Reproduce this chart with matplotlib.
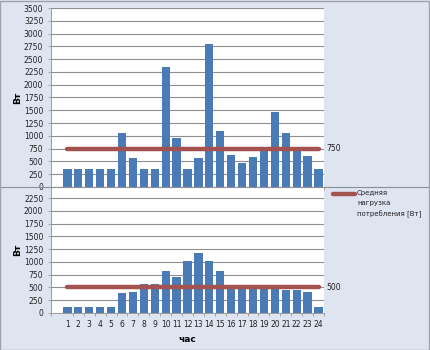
import matplotlib
matplotlib.use("Agg")
import matplotlib.pyplot as plt
from matplotlib.lines import Line2D
import numpy as np

hours = list(range(1, 25))
load_top = [350, 350, 350, 350, 350, 1050, 560, 350, 350, 2350, 950, 350,
            560, 2800, 1100, 625, 460, 590, 780, 1475, 1050, 760, 600, 350]
load_bottom = [110, 110, 110, 110, 110, 390, 420, 560, 560, 820, 700, 1010,
               1170, 1010, 820, 550, 550, 550, 550, 550, 450, 450, 410, 110]
avg_top = 750
avg_bottom = 500
yticks_top = list(range(0, 3501, 250))
yticks_bottom = list(range(0, 2251, 250))
ylabel = "Вт"
xlabel = "час"
legend_label = "Средняя\nнагрузка\nпотребления [Вт]"

BG = "#dfe4f1"
BAR = "#4b7bb6"
AVG = "#a4524f"
GRID = "#8f8f8f"
FS = 5.5

fig = plt.figure(figsize=(4.3, 3.5), dpi=100, facecolor=BG)


def panel(rect, values, avg, yticks, ymax, show_x):
    ax = fig.add_axes(rect)
    ax.set_facecolor("white")
    ax.bar(hours, values, width=0.76, color=BAR, zorder=2)
    ax.plot(hours, [avg] * len(hours), color=AVG, lw=3.2,
            solid_capstyle="round", zorder=3)
    ax.text(24.75, avg, str(avg), fontsize=FS, va="center", ha="left",
            color="#222222", clip_on=False)
    ax.set_xlim(-0.5, 24.5)
    ax.set_ylim(0, ymax)
    ax.set_yticks(yticks)
    ax.set_yticklabels([str(v) for v in yticks], fontsize=FS, color="#222222")
    ax.yaxis.grid(True, color=GRID, lw=0.8, zorder=0)
    ax.set_axisbelow(True)
    ax.tick_params(axis="y", length=2.5, width=0.6, color="#999999", pad=3)
    ax.set_xticks([h + 0.5 for h in [-1] + hours])
    ax.set_xticklabels([])
    ax.set_xticks(hours, minor=True)
    if show_x:
        ax.set_xticklabels([str(h) for h in hours], minor=True, fontsize=FS,
                           color="#222222")
    ax.tick_params(axis="x", which="major", length=2, width=0.6, color="#999999")
    ax.tick_params(axis="x", which="minor", length=0, pad=5)
    for s in ("top", "right"):
        ax.spines[s].set_visible(False)
    ax.spines["left"].set_color("#9a9a9a")
    ax.spines["left"].set_linewidth(0.7)
    ax.spines["bottom"].set_color("#9a9a9a")
    ax.spines["bottom"].set_linewidth(0.7)
    ax.set_ylabel(ylabel, fontsize=6.5, fontweight="bold")
    return ax


ax1 = panel([51 / 430, 1 - 187 / 350, 273 / 430, 179 / 350],
            load_top, avg_top, yticks_top, 3500, False)
ax2 = panel([51 / 430, 1 - 313 / 350, 273 / 430, 126 / 350],
            load_bottom, avg_bottom, yticks_bottom, 2466, True)
ax2.set_xlabel(xlabel, fontsize=6.5, fontweight="bold", labelpad=4)
ax1.yaxis.set_label_coords(-0.105, 0.5)
ax2.yaxis.set_label_coords(-0.105, 0.5)

# divider between the two charts and outer frame
fig.add_artist(Line2D([0, 1], [1 - 187 / 350] * 2, transform=fig.transFigure,
                      color="#8a8f9a", lw=0.8, zorder=1))
fig.add_artist(plt.Rectangle((0.001, 0.001), 0.997, 0.997,
                             transform=fig.transFigure, fill=False,
                             edgecolor="#9ea3ae", lw=1.0))

# legend
fig.add_artist(Line2D([333 / 430, 355 / 430], [1 - 194 / 350] * 2,
                      transform=fig.transFigure, color=AVG, lw=3.2,
                      solid_capstyle="round"))
fig.text(357 / 430, 1 - 189.5 / 350, legend_label, fontsize=5.0, va="top",
         ha="left", color="#222222", linespacing=1.85)

fig.savefig("out.png", dpi=100, facecolor=BG)
